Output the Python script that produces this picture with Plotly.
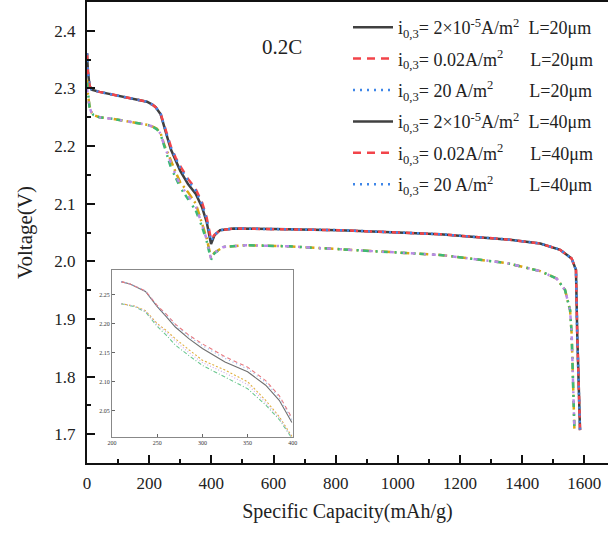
import plotly.graph_objects as go

# ---------------- data ----------------
cap_up = [0, 3, 8, 15, 40, 85, 150, 193, 210, 220, 237, 250, 260, 270, 285, 300, 325, 350,
          370, 385, 399, 410, 428, 471, 600, 814, 1000, 1136, 1350, 1458, 1522, 1559, 1573, 1577, 1586]
v_black = [2.361, 2.330, 2.305, 2.298, 2.294, 2.289, 2.282, 2.277, 2.272, 2.268, 2.255, 2.229, 2.212, 2.194,
           2.174, 2.157, 2.134, 2.117, 2.094, 2.068, 2.030, 2.045, 2.054, 2.057, 2.056, 2.054, 2.050, 2.047,
           2.038, 2.031, 2.020, 2.005, 1.985, 1.875, 1.707]
v_red = [2.361, 2.330, 2.305, 2.298, 2.294, 2.289, 2.282, 2.277, 2.272, 2.268, 2.256, 2.231, 2.216, 2.199,
         2.180, 2.165, 2.143, 2.125, 2.102, 2.076, 2.038, 2.046, 2.054, 2.057, 2.056, 2.054, 2.050, 2.047,
         2.038, 2.031, 2.020, 2.005, 1.985, 1.875, 1.707]
v_blue = [2.361, 2.330, 2.305, 2.298, 2.294, 2.289, 2.282, 2.277, 2.272, 2.268, 2.256, 2.230, 2.214, 2.197,
          2.178, 2.162, 2.140, 2.122, 2.099, 2.073, 2.035, 2.046, 2.054, 2.057, 2.056, 2.054, 2.050, 2.047,
          2.038, 2.031, 2.020, 2.005, 1.985, 1.875, 1.707]

cap_low = [0, 3, 8, 15, 21, 40, 85, 150, 193, 210, 225, 237, 250, 260, 270, 285, 300, 325, 350, 370,
           385, 399, 410, 439, 514, 650, 814, 1000, 1136, 1350, 1458, 1511, 1538, 1554, 1559, 1568]
v_orange = [2.315, 2.290, 2.270, 2.258, 2.254, 2.250, 2.247, 2.241, 2.237, 2.234, 2.230, 2.222, 2.200, 2.188,
            2.174, 2.155, 2.137, 2.120, 2.100, 2.068, 2.040, 2.006, 2.015, 2.025, 2.028, 2.026, 2.021, 2.016,
            2.011, 1.997, 1.983, 1.970, 1.950, 1.915, 1.875, 1.707]
v_green = [2.310, 2.288, 2.268, 2.257, 2.254, 2.250, 2.247, 2.241, 2.237, 2.234, 2.229, 2.220, 2.195, 2.180,
           2.163, 2.145, 2.128, 2.108, 2.088, 2.060, 2.035, 2.003, 2.014, 2.025, 2.028, 2.026, 2.021, 2.016,
           2.011, 1.997, 1.983, 1.970, 1.950, 1.915, 1.875, 1.707]
v_purple = [2.300, 2.285, 2.268, 2.257, 2.254, 2.250, 2.247, 2.241, 2.237, 2.234, 2.230, 2.221, 2.198, 2.185,
            2.170, 2.150, 2.133, 2.115, 2.095, 2.064, 2.038, 2.004, 2.015, 2.025, 2.028, 2.026, 2.021, 2.016,
            2.011, 1.997, 1.983, 1.970, 1.950, 1.915, 1.875, 1.707]

NB = "\u00a0"
legend_names = [
    "i<sub>0,3</sub>= 2×10<sup>-5</sup>A/m<sup>2</sup>" + NB * 2 + "L=20μm",
    "i<sub>0,3</sub>= 0.02A/m<sup>2</sup>" + NB * 6 + "L=20μm",
    "i<sub>0,3</sub>= 20 A/m<sup>2</sup>" + NB * 8 + "L=20μm",
    "i<sub>0,3</sub>= 2×10<sup>-5</sup>A/m<sup>2</sup>" + NB * 2 + "L=40μm",
    "i<sub>0,3</sub>= 0.02A/m<sup>2</sup>" + NB * 6 + "L=40μm",
    "i<sub>0,3</sub>= 20 A/m<sup>2</sup>" + NB * 8 + "L=40μm",
]
x_ticks = [0, 200, 400, 600, 800, 1000, 1200, 1400, 1600]
y_ticks = [1.7, 1.8, 1.9, 2.0, 2.1, 2.2, 2.3, 2.4]
inset_x_ticks = [200, 250, 300, 350, 400]
inset_y_ticks = [2.05, 2.10, 2.15, 2.20, 2.25]

# ---------------- styles ----------------
BLACK = "#404040"
RED = "#f2444a"
BLUE = "#3f86e8"
ORANGE = "#d9a514"
GREEN = "#3cb878"
PURPLE = "#b98ae6"
SERIF = "Liberation Serif"

L_M, R_M, T_M, B_M = 87, 0, 2, 75
PW, PH = 608 - L_M - R_M, 538 - T_M - B_M

fig = go.Figure()

upper = [(v_black, BLACK, "solid"), (v_red, RED, "8px,6px"), (v_blue, BLUE, "2px,5px")]
lower = [(v_orange, ORANGE, "9px,4px,2px,4px"), (v_green, GREEN, "6px,7px,2px,4px"),
         (v_purple, PURPLE, "4px,9px,2px,6px")]

for i, (v, c, d) in enumerate(upper):
    fig.add_trace(go.Scatter(x=cap_up, y=v, mode="lines", name=legend_names[i],
                             line=dict(color=c, width=2.5, dash=d), legendgroup=f"g{i}"))
for v, c, d in lower:
    fig.add_trace(go.Scatter(x=cap_low, y=v, mode="lines", showlegend=False,
                             line=dict(color=c, width=2.5, dash=d)))
# legend entries for L=40 (drawn as in the reference legend)
for i, (c, d) in enumerate([(BLACK, "solid"), (RED, "8px,6px"), (BLUE, "2px,5px")]):
    fig.add_trace(go.Scatter(x=[None], y=[None], mode="lines", name=legend_names[3 + i],
                             line=dict(color=c, width=2.5, dash=d), legendgroup=f"h{i}"))

# inset
def sub(xs, ys, lo=200, hi=400):
    pts = [(a, b) for a, b in zip(xs, ys) if lo <= a <= hi]
    return [p[0] for p in pts], [p[1] for p in pts]

inset_styles = [(cap_up, v_black, "#707070", "solid"), (cap_up, v_red, "#e87a80", "4px,3px"),
                (cap_up, v_blue, "#8fb0e8", "1px,3px"),
                (cap_low, v_orange, "#e0b040", "2px,2px"), (cap_low, v_green, "#6cc890", "4px,2px,1px,2px"),
                (cap_low, v_purple, "#c8a8ea", "1px,2px")]
for xs, ys, c, d in inset_styles:
    sx, sy = sub(xs, ys)
    fig.add_trace(go.Scatter(x=sx, y=sy, mode="lines", showlegend=False, xaxis="x2", yaxis="y2",
                             line=dict(color=c, width=1.1, dash=d)))

fig.add_annotation(text="0.2C", x=(282 - L_M) / PW, y=(538 - B_M - 47) / PH,
                   xref="paper", yref="paper", xanchor="center", yanchor="middle",
                   showarrow=False, font=dict(family=SERIF, size=21, color="#222"))

fig.update_layout(
    width=608, height=538,
    margin=dict(l=L_M, r=R_M, t=T_M, b=B_M, autoexpand=False),
    paper_bgcolor="white", plot_bgcolor="white",
    font=dict(family=SERIF, color="#222"),
    xaxis=dict(range=[0, 1676], tickvals=x_ticks, ticks="inside", ticklen=8, tickwidth=2,
               tickcolor="#111", showline=True, linecolor="#111", linewidth=2, mirror=True,
               showgrid=False, zeroline=False, tickfont=dict(size=17, family=SERIF),
               ticklabelstandoff=4,
               minor=dict(ticks="inside", ticklen=4, tickwidth=2, tickcolor="#111", dtick=100, tick0=0),
               title=dict(text="Specific Capacity(mAh/g)", font=dict(size=20, family=SERIF), standoff=12)),
    yaxis=dict(range=[1.65, 2.45], tickvals=y_ticks, tickformat=".1f", ticks="inside", ticklen=8,
               tickwidth=2, tickcolor="#111", showline=True, linecolor="#111", linewidth=2,
               showgrid=False, zeroline=False, tickfont=dict(size=17, family=SERIF),
               ticklabelstandoff=6,
               minor=dict(ticks="inside", ticklen=4, tickwidth=2, tickcolor="#111", dtick=0.05, tick0=1.65),
               title=dict(text="Voltage(V)", font=dict(size=21, family=SERIF), standoff=16)),
    xaxis2=dict(domain=[0.048, 0.395], anchor="y2", range=[200, 400], tickvals=inset_x_ticks,
                ticks="inside", ticklen=3, tickwidth=1, tickcolor="#666", showline=True,
                linecolor="#888", linewidth=1, mirror=True, showgrid=False, zeroline=False,
                tickfont=dict(size=6, family=SERIF, color="#333")),
    yaxis2=dict(domain=[0.0564, 0.4187], anchor="x2", range=[2.005, 2.292], tickvals=inset_y_ticks,
                tickformat=".2f", ticks="inside", ticklen=3, tickwidth=1, tickcolor="#666",
                showline=True, linecolor="#888", linewidth=1, mirror=True, showgrid=False,
                zeroline=False, tickfont=dict(size=6, family=SERIF, color="#333")),
    legend=dict(x=(348 - L_M) / PW, y=(538 - B_M - 9) / PH, xanchor="left", yanchor="top",
                bgcolor="rgba(0,0,0,0)",
                font=dict(size=18, family=SERIF, color="#222"), tracegroupgap=5, itemwidth=40),
    showlegend=True,
)

fig.write_html("out.html")
